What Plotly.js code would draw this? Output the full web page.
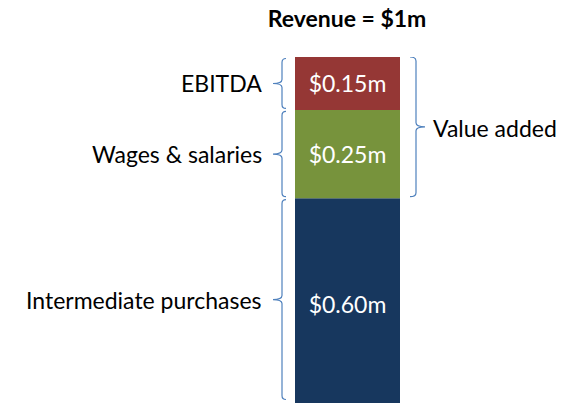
<!DOCTYPE html>
<html>
<head>
<meta charset="utf-8">
<script src="https://cdn.plot.ly/plotly-3.0.1.min.js"></script>
<style>html,body{margin:0;padding:0;background:#fff;}#chart{width:568px;height:403px;}</style>
</head>
<body>
<div id="chart"></div>
<script>
// Data (bottom to top)
const categories = ["Intermediate purchases", "Wages & salaries", "EBITDA"];
const values = [0.60, 0.25, 0.15];
const barLabels = ["$0.60m", "$0.25m", "$0.15m"];
const colors = ["#17375E", "#77933C", "#953735"];
const titleText = "Revenue = $1m";
const groupLabel = "Value added";

const W = 568, H = 403;
const yMin = 0.02, yMax = 1.0;
const plotTop = 57;
const pxPerUnit = (H - plotTop) / (yMax - yMin);
const FONT = "Lato, 'Open Sans', sans-serif";
const FS = 23;

// cumulative bases
const bases = [];
let acc = 0;
values.forEach(v => { bases.push(acc); acc += v; });

const traces = values.map((v, i) => ({
  type: "bar",
  x: [0],
  y: [v],
  base: [bases[i]],
  width: 1,
  name: categories[i],
  marker: { color: colors[i], line: { width: 0 } },
  text: [barLabels[i]],
  textposition: "inside",
  insidetextanchor: "middle",
  constraintext: "none",
  textfont: { color: "#ffffff", size: FS, family: FONT },
  hoverinfo: "skip",
  showlegend: false
}));

const px = x => x / W;              // pixel -> paper x
const dy = p => p / pxPerUnit;      // pixel -> data y delta
const braceColor = "#4F81BD";

function brace(lo, hi, xv, xHook, xTick) {
  const r = dy(4);
  const ym = (lo + hi) / 2;
  return "M" + px(xHook) + "," + hi +
    " Q" + px(xv) + "," + hi + " " + px(xv) + "," + (hi - r) +
    " L" + px(xv) + "," + (ym + r) +
    " Q" + px(xv) + "," + ym + " " + px(xTick) + "," + ym +
    " Q" + px(xv) + "," + ym + " " + px(xv) + "," + (ym - r) +
    " L" + px(xv) + "," + (lo + r) +
    " Q" + px(xv) + "," + lo + " " + px(xHook) + "," + lo;
}

const shapes = [];
const annotations = [];
const g = dy(1.5);
values.forEach((v, i) => {
  const lo = Math.max(bases[i], yMin + dy(2)) + g;
  const hi = bases[i] + v - g;
  shapes.push({
    type: "path", xref: "paper", yref: "y",
    path: brace(lo, hi, 282, 286, 273),
    line: { color: braceColor, width: 1.2 }
  });
  annotations.push({
    xref: "paper", yref: "y",
    x: px(264), y: (lo + hi) / 2,
    xanchor: "right", yanchor: "middle",
    text: categories[i], showarrow: false,
    font: { size: FS, color: "#000000", family: FONT }
  });
});

// Value added brace (wages + EBITDA)
const vaLo = bases[1];
const vaHi = bases[2] + values[2];
shapes.push({
  type: "path", xref: "paper", yref: "y",
  path: brace(vaLo + g, vaHi, 416, 410, 425),
  line: { color: braceColor, width: 1.2 }
});
annotations.push({
  xref: "paper", yref: "y",
  x: px(431), y: (vaLo + vaHi) / 2,
  xanchor: "left", yanchor: "middle",
  text: groupLabel, showarrow: false,
  font: { size: FS, color: "#000000", family: FONT }
});

const layout = {
  width: W, height: H,
  margin: { l: 0, r: 0, t: plotTop, b: 0, pad: 0 },
  paper_bgcolor: "#ffffff",
  plot_bgcolor: "#ffffff",
  title: {
    text: "<b>" + titleText + "</b>",
    x: 347 / W, xanchor: "center",
    y: 1 - 19 / H, yanchor: "middle", yref: "container",
    font: { size: FS, color: "#000000", family: FONT }
  },
  xaxis: { range: [-347.5 / 105, (W - 347.5) / 105], visible: false, fixedrange: true },
  yaxis: { range: [yMin, yMax], visible: false, fixedrange: true },
  barmode: "overlay",
  shapes: shapes,
  annotations: annotations,
  showlegend: false
};

Plotly.newPlot("chart", traces, layout, { displayModeBar: false, staticPlot: true });
</script>
</body>
</html>
